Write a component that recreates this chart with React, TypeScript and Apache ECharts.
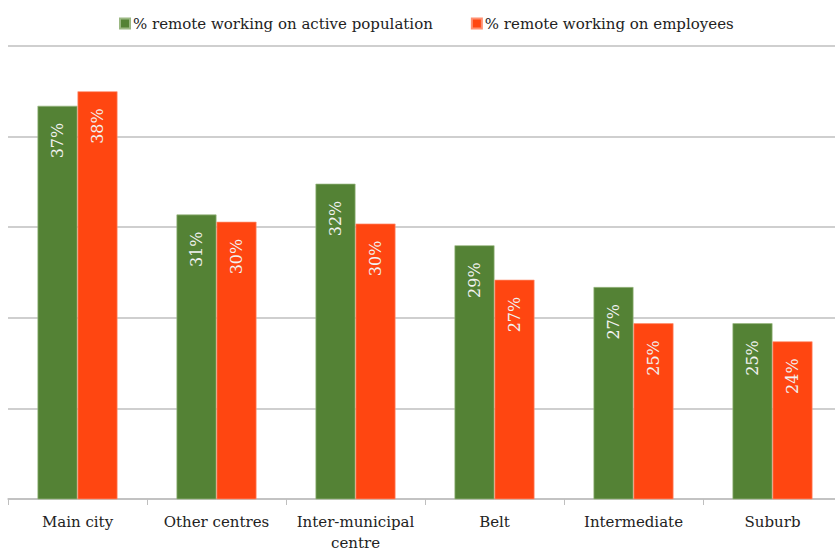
import React, { useEffect, useRef } from "react";
import * as echarts from "echarts";

const categories = ["Main city", "Other centres", "Inter-municipal\ncentre", "Belt", "Intermediate", "Suburb"];
const activePopulation = [36.7, 30.7, 32.4, 29.0, 26.7, 24.7];
const employees = [37.5, 30.3, 30.2, 27.1, 24.7, 23.7];
const seriesNames = ["% remote working on active population", "% remote working on employees"];

export default function App() {
  const ref = useRef<HTMLDivElement>(null);
  useEffect(() => {
    const chart = echarts.init(ref.current!, undefined, { renderer: "svg" });
    const font = "DejaVu Serif";
    const label = {
      show: true,
      position: "insideTop",
      rotate: 90,
      align: "right",
      verticalAlign: "middle",
      distance: 17,
      color: "#f2f2f2",
      fontFamily: font,
      fontSize: 16,
      formatter: (p: any) => Math.round(p.value) + "%",
    };
    chart.setOption({
      animation: false,
      textStyle: { fontFamily: font },
      legend: {
        top: 11,
        left: 114,
        itemWidth: 10,
        itemHeight: 10,
        itemGap: 38,
        icon: "rect",
        textStyle: { fontFamily: font, fontSize: 15, color: "#222", padding: [0, 0, 0, -2] },
        data: seriesNames,
      },
      grid: { left: 8, right: -7, top: 46, bottom: 52, containLabel: false, outerBoundsMode: "none" },
      xAxis: {
        type: "category",
        data: categories,
        axisLine: { lineStyle: { color: "#bfbfbf", width: 1.5 } },
        axisTick: { show: true, length: 6, lineStyle: { color: "#bfbfbf" } },
        axisLabel: { interval: 0, fontFamily: font, fontSize: 15, color: "#222", margin: 12, lineHeight: 21 },
      },
      yAxis: {
        type: "value",
        min: 15,
        max: 40,
        interval: 5,
        axisLabel: { show: false },
        axisLine: { show: false },
        axisTick: { show: false },
        splitLine: { lineStyle: { color: "#bfbfbf", width: 1.5 } },
      },
      series: [
        {
          name: seriesNames[0],
          type: "bar",
          data: activePopulation,
          barWidth: 40,
          barGap: "0%",
          itemStyle: { color: "#548235", borderColor: "#9bb883", borderWidth: 0.7 },
          label,
        },
        {
          name: seriesNames[1],
          type: "bar",
          data: employees,
          barWidth: 40,
          barGap: "0%",
          itemStyle: { color: "#ff4611", borderColor: "#ff8f70", borderWidth: 0.7 },
          label,
        },
      ],
    });
    return () => chart.dispose();
  }, []);
  return <div ref={ref} style={{ width: 835, height: 551, position: "absolute", left: 0, top: 0 }} />;
}
